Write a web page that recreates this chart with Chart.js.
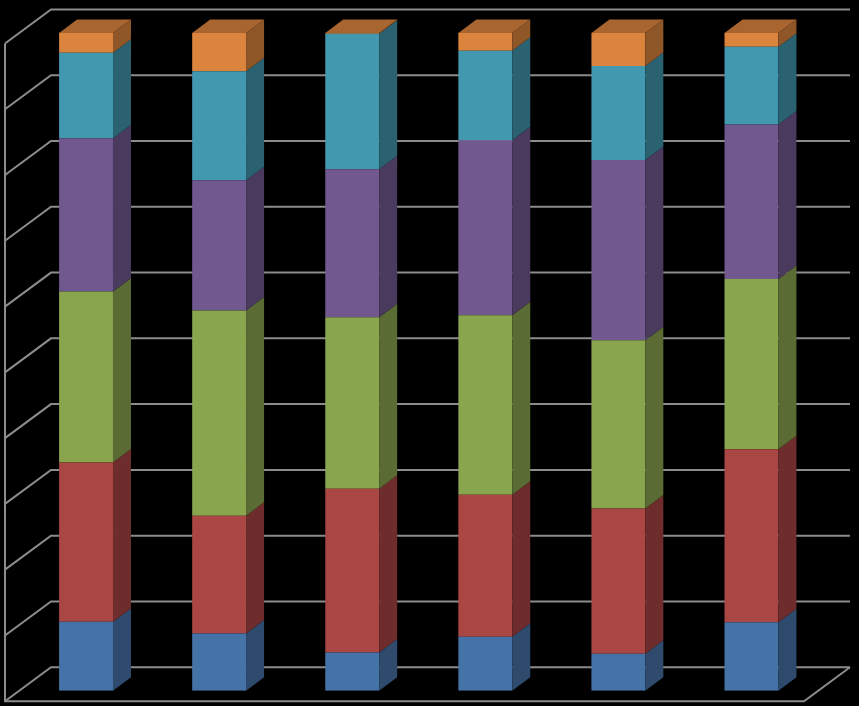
<!DOCTYPE html>
<html lang="en">
<head>
    <meta charset="UTF-8">
    <title>3D Stacked Columns</title>
    <script src="https://cdn.jsdelivr.net/npm/chart.js"></script>
    <style>
        html, body { margin: 0; padding: 0; background: #000; }
        canvas { display: block; }
    </style>
</head>
<body>
    <canvas id="chart" width="859" height="706"></canvas>

    <script>
        // values (percent of each column)
        const categories = ['1', '2', '3', '4', '5', '6'];
        const series1 = [10.5, 8.7, 5.8, 8.2, 5.6, 10.4];
        const series2 = [24.2, 17.9, 24.9, 21.6, 22.1, 26.3];
        const series3 = [26.0, 31.2, 26.1, 27.3, 25.6, 25.9];
        const series4 = [23.3, 19.8, 22.5, 26.6, 27.4, 23.5];
        const series5 = [13.0, 16.6, 20.6, 13.6, 14.3, 11.8];
        const series6 = [3.0, 5.8, 0.1, 2.7, 5.0, 2.1];
        const gridTicks = [0, 10, 20, 30, 40, 50, 60, 70, 80, 90, 100];

        const fronts = ['#4572a7', '#aa4643', '#89a54e', '#71588f', '#4198af', '#db843d'];
        const sides  = ['#2e4b6e', '#6e2d2c', '#5a6c33', '#4a3a5e', '#2a6271', '#8f5628'];
        const tops   = ['#3a5f8b', '#8c3a37', '#718940', '#5e4977', '#367f93', '#a8652f'];

        // 3D look: side + top faces of each column, walls with gridlines
        const DX = 18, DY = 13.5;        // column depth
        const WALL_DX = 46, WALL_DY = 34; // floor depth
        const BACK_SHIFT = 23.5;          // back wall relative to column front

        const walls3d = {
            id: 'walls3d',
            beforeDatasetsDraw(chart) {
                const ctx = chart.ctx, a = chart.chartArea, ys = chart.scales.y;
                const frontX = a.left - 14.5, backX = frontX + WALL_DX, backRight = a.right + 32;
                ctx.save();
                ctx.strokeStyle = '#8c8c8c';
                ctx.lineWidth = 2;
                gridTicks.forEach(v => {
                    const yb = ys.getPixelForValue(v) - BACK_SHIFT;
                    ctx.beginPath();
                    ctx.moveTo(frontX, yb + WALL_DY);
                    ctx.lineTo(backX, yb);
                    ctx.lineTo(backRight, yb);
                    ctx.stroke();
                });
                const yTop = ys.getPixelForValue(100) - BACK_SHIFT + WALL_DY;
                const yBot = ys.getPixelForValue(0) - BACK_SHIFT + WALL_DY;
                ctx.beginPath();
                ctx.moveTo(frontX, yTop);
                ctx.lineTo(frontX, yBot);
                ctx.lineTo(backRight - WALL_DX, yBot);
                ctx.lineTo(backRight, yBot - WALL_DY);
                ctx.stroke();
                ctx.restore();
            },
            afterDatasetsDraw(chart) {
                const ctx = chart.ctx;
                const n = chart.data.datasets.length;
                ctx.save();
                for (let d = 0; d < n; d++) {
                    const meta = chart.getDatasetMeta(d);
                    meta.data.forEach((bar) => {
                        const xr = bar.x + bar.width / 2;
                        const xl = bar.x - bar.width / 2;
                        const top = bar.y, base = bar.base;
                        ctx.fillStyle = sides[d];
                        ctx.beginPath();
                        ctx.moveTo(xr, top);
                        ctx.lineTo(xr + DX, top - DY);
                        ctx.lineTo(xr + DX, base - DY);
                        ctx.lineTo(xr, base);
                        ctx.closePath();
                        ctx.fill();
                        if (d === n - 1) {
                            ctx.fillStyle = tops[d];
                            ctx.beginPath();
                            ctx.moveTo(xl, top);
                            ctx.lineTo(xl + DX, top - DY);
                            ctx.lineTo(xr + DX, top - DY);
                            ctx.lineTo(xr, top);
                            ctx.closePath();
                            ctx.fill();
                        }
                    });
                }
                ctx.restore();
            }
        };

        const seriesList = [series1, series2, series3, series4, series5, series6];

        new Chart(document.getElementById('chart'), {
            type: 'bar',
            data: {
                labels: categories,
                datasets: seriesList.map((vals, k) => ({
                    label: 'Series ' + (k + 1),
                    data: vals,
                    backgroundColor: fronts[k],
                    borderWidth: 0,
                    categoryPercentage: 1,
                    barPercentage: 0.405
                }))
            },
            options: {
                responsive: false,
                animation: false,
                layout: { padding: { left: 19.5, right: 41, top: 33, bottom: 15.3 } },
                scales: {
                    x: { stacked: true, display: false },
                    y: { stacked: true, display: false, min: 0, max: 100 }
                },
                plugins: { legend: { display: false }, tooltip: { enabled: false } }
            },
            plugins: [walls3d]
        });
    </script>
</body>
</html>
